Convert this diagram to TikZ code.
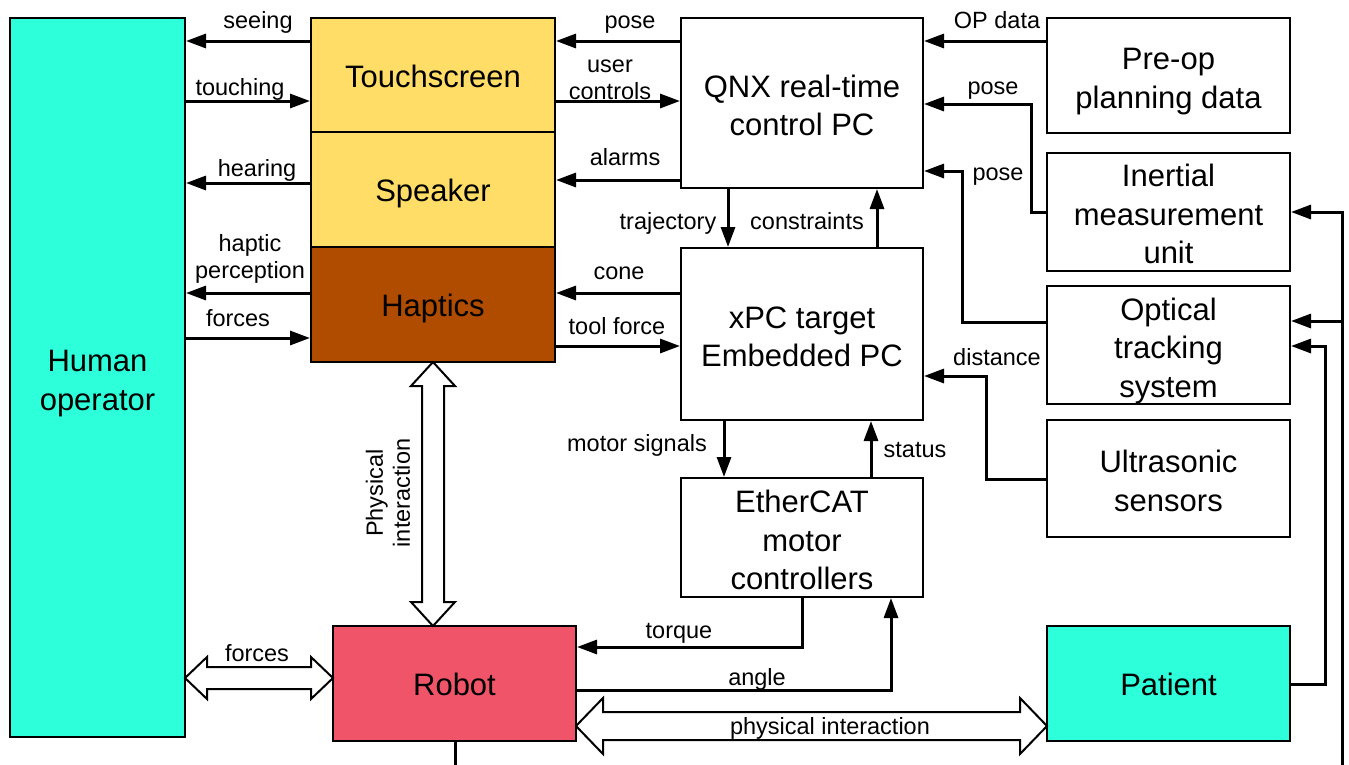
\documentclass[tikz,border=0pt]{standalone}
\usepackage{fontspec}
\setmainfont{Liberation Sans}
\usetikzlibrary{arrows.meta}

\definecolor{cyanbox}{RGB}{44,255,217}
\definecolor{yellowbox}{RGB}{255,221,102}
\definecolor{brownbox}{RGB}{176,76,0}
\definecolor{robotbox}{RGB}{240,84,104}

% struts for the first line of several-line texts
\newcommand{\bstrut}{\rule{0pt}{34pt}}
\newcommand{\lstrut}{\rule{0pt}{21.5pt}}

\tikzset{every picture/.style={line width=2pt}}
\tikzset{
  blk/.style={draw=black, line width=2pt, align=center, inner sep=0pt,
    font=\fontsize{31}{38.5}\selectfont,
    execute at begin node={\rule{0pt}{31pt}},
    execute at end node={\rule[-7pt]{0pt}{7pt}}},
  lbl/.style={align=center, inner sep=0pt, font=\fontsize{23.5}{27}\selectfont,
    execute at begin node={\rule{0pt}{21.5pt}},
    execute at end node={\rule[-5pt]{0pt}{5pt}}},
  arr/.style={line width=3pt, -{Triangle[length=20pt,width=14pt]}},
  wire/.style={line width=3pt},
  fatarrow/.style={draw=black, fill=white, line width=2pt, line join=miter}
}

\begin{document}
\begin{tikzpicture}[x=1pt,y=1pt,yscale=-1,xscale=1]
    \useasboundingbox (0,0) rectangle (1349,764);

    % Boxes
    \node [blk, fill=cyanbox, minimum width=175pt, minimum height=719pt] (hum) at (97.5,377.5) {\bstrut Human\\operator};
    \node [blk, fill=yellowbox, minimum width=244pt, minimum height=114pt] (ts) at (433,75) {Touchscreen};
    \node [blk, fill=yellowbox, minimum width=244pt, minimum height=115pt] (spk) at (433,189.5) {Speaker};
    \node [blk, fill=brownbox, minimum width=244pt, minimum height=115pt] (hap) at (433,304.5) {Haptics};
    \node [blk, minimum width=242pt, minimum height=170pt] (qnx) at (802,103) {\bstrut QNX real-time\\control PC};
    \node [blk, minimum width=242pt, minimum height=172pt] (xpc) at (802,334) {\bstrut xPC target\\Embedded PC};
    \node [blk, minimum width=242pt, minimum height=119pt] (eth) at (802,537.5) {\bstrut EtherCAT\\motor\\controllers};
    \node [blk, minimum width=243pt, minimum height=115pt] (pre) at (1168.5,75.5) {\bstrut Pre-op\\planning data};
    \node [blk, minimum width=243pt, minimum height=117pt] (imu) at (1168.5,211.5) {\bstrut Inertial\\measurement\\unit};
    \node [blk, minimum width=243pt, minimum height=116pt] (ots) at (1168.5,345) {\bstrut Optical\\tracking\\system};
    \node [blk, minimum width=243pt, minimum height=117pt] (uss) at (1168.5,478.5) {\bstrut Ultrasonic\\sensors};
    \node [blk, fill=robotbox, minimum width=243pt, minimum height=115pt] (rob) at (454.5,683.5) {Robot};
    \node [blk, fill=cyanbox, minimum width=243pt, minimum height=115pt] (pat) at (1168.5,683.5) {Patient};

    % Human <-> touchscreen, speaker, haptics
    \draw [arr] (ts.west |- 0,41) -- (hum.east |- 0,41);
    \draw [arr] (hum.east |- 0,101) -- (ts.west |- 0,101);
    \draw [arr] (spk.west |- 0,183) -- (hum.east |- 0,183);
    \draw [arr] (hap.west |- 0,293) -- (hum.east |- 0,293);
    \draw [arr] (hum.east |- 0,338) -- (hap.west |- 0,338);

    % QNX / xPC <-> interface
    \draw [arr] (qnx.west |- 0,41) -- (ts.east |- 0,41);
    \draw [arr] (ts.east |- 0,101) -- (qnx.west |- 0,101);
    \draw [arr] (qnx.west |- 0,180) -- (spk.east |- 0,180);
    \draw [arr] (xpc.west |- 0,293) -- (hap.east |- 0,293);
    \draw [arr] (hap.east |- 0,346) -- (xpc.west |- 0,346);

    % vertical links
    \draw [arr] (728,0 |- qnx.south) -- (728,0 |- xpc.north);
    \draw [arr] (877,0 |- xpc.north) -- (877,0 |- qnx.south);
    \draw [arr] (724,0 |- xpc.south) -- (724,0 |- eth.north);
    \draw [arr] (871,0 |- eth.north) -- (871,0 |- xpc.south);

    % sensors to PCs
    \draw [arr] (pre.west |- 0,41) -- (qnx.east |- 0,41);
    \draw [arr] (imu.west |- 0,212) -| (1031,104) -- (qnx.east |- 0,104);
    \draw [arr] (ots.west |- 0,322) -| (962,171) -- (qnx.east |- 0,171);
    \draw [arr] (uss.west |- 0,479) -| (986,376) -- (xpc.east |- 0,376);

    % motor controllers <-> robot
    \draw [arr] (802,0 |- eth.south) |- (rob.east |- 0,647);
    \draw [arr] (rob.east |- 0,690) -| (891,0 |- eth.south);

    % right side feeds
    \coordinate (busend) at (1342,770);
    \coordinate (robend) at (455,770);
    \draw [arr] (busend) -- (1342,212) -- (imu.east |- 0,212);
    \draw [arr] (1342,321) -- (ots.east |- 0,321);
    \draw [arr] (pat.east |- 0,684) -| (1325,346) -- (ots.east |- 0,346);
    \draw [wire] (455,0 |- rob.south) -- (robend);

    % Block arrows
    \draw [fatarrow] (185,678) -- (207,657) -- (207,667) -- (311,667) -- (311,657) -- (333,678) -- (311,699) -- (311,689) -- (207,689) -- (207,699) -- cycle;
    \draw [fatarrow] (576,726) -- (603,698) -- (603,712) -- (1020,712) -- (1020,698) -- (1047,726) -- (1020,754) -- (1020,740) -- (603,740) -- (603,754) -- cycle;
    \draw [fatarrow] (433,362) -- (455,386) -- (444,386) -- (444,602) -- (455,602) -- (433,626) -- (411,602) -- (422,602) -- (422,386) -- (411,386) -- cycle;

    % Text Nodes
    \node [lbl] (tseeing) at (258,20) {seeing};
    \node [lbl] (ttouching) at (240,87) {touching};
    \node [lbl] (thearing) at (257,168) {hearing};
    \node [lbl] (thaptic) at (250,257) {\lstrut haptic\\perception};
    \node [lbl] (tforcesa) at (238,318) {forces};
    \node [lbl] (tposea) at (630,20) {pose};
    \node [lbl] (tuser) at (610,78) {\lstrut user\\controls};
    \node [lbl] (talarms) at (625,157) {alarms};
    \node [lbl] (tcone) at (619,271) {cone};
    \node [lbl] (ttool) at (617,326) {tool force};
    \node [lbl] (ttraj) at (668,221) {trajectory};
    \node [lbl] (tconstr) at (807,221) {constraints};
    \node [lbl] (tmotor) at (637,443) {motor signals};
    \node [lbl] (tstatus) at (915,449) {status};
    \node [lbl] (topdata) at (997,20) {OP data};
    \node [lbl] (tposeb) at (993,86) {pose};
    \node [lbl] (tposec) at (998,172) {pose};
    \node [lbl] (tdist) at (997,357) {distance};
    \node [lbl] (ttorque) at (679,630) {torque};
    \node [lbl] (tangle) at (757,677) {angle};
    \node [lbl] (tphys) at (830,726) {physical interaction};
    \node [lbl] (tforcesb) at (257,653) {forces};
    \node [lbl, rotate=90] (tphysv) at (388,493) {\lstrut Physical\\interaction};

\end{tikzpicture}
\end{document}
